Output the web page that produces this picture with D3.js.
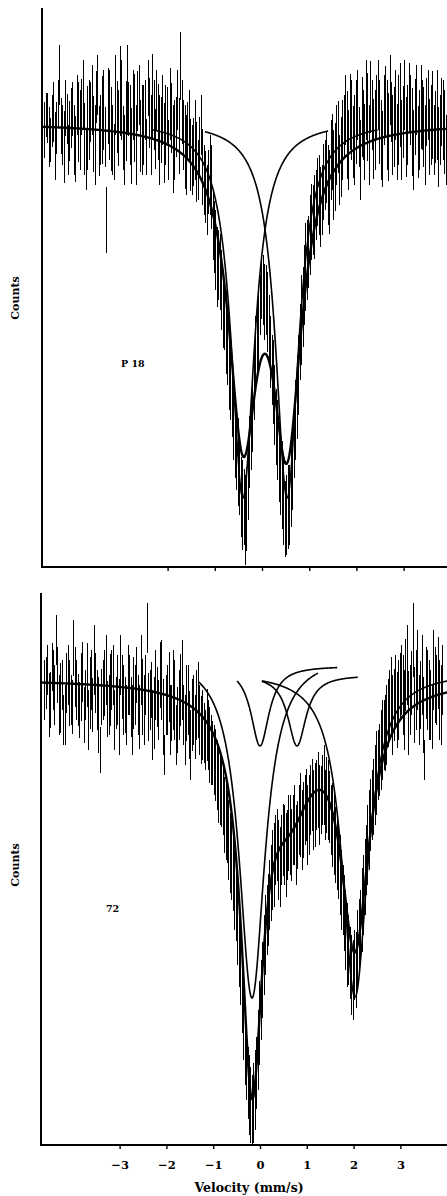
<!DOCTYPE html>
<html>
<head>
<meta charset="utf-8">
<script src="https://cdn.jsdelivr.net/npm/d3@7"></script>
<style>
  html, body { margin: 0; padding: 0; background: #fff; }
  svg { display: block; }
</style>
</head>
<body>
<svg id="chart" width="447" height="1196"></svg>
<script>
// 57Fe Mössbauer spectra of two samples (P 18 and 72) with fitted Lorentzian lines.

// ---- velocity axis ----
const velocityTicks = [-3, -2, -1, 0, 1, 2, 3];
const velocityTickLabels = ["\u22123", "\u22122", "\u22121", "0", "1", "2", "3"];
const p18TickValues = [-2, -1, 0, 1, 2, 3];
const channelStart = -4.60;    // mm/s, first channel
const channelStep = 0.03125;   // mm/s per channel

// ---- sample P 18: measured counts (arb. units) and error half-lengths ----
const p18Counts = [
  437,452, 449,430, 427,446, 455,421, 439,463,
  492,441, 432,420, 459,448, 417,436, 449,458,
  427,418, 462,445, 437,460, 472,428, 407,439,
  447,455, 467,433, 422,470, 482,426, 437,447,
  457,430, 347,461, 452,438, 427,415, 472,450,
  439,476, 467,429, 417,446, 477,458, 442,421,
  462,449, 422,466, 472,431, 437,442, 457,420,
  479,454, 432,471, 452,428, 467,445, 427,437,
  457,424, 442,452, 417,463, 449,418, 427,440,
  467,431, 501,455, 432,420, 412,437, 442,412,
  407,415, 427,405, 397,420, 442,400, 387,380,
  367,385, 392,380, 342,330, 317,300, 302,295,
  277,255, 247,235, 217,195, 182,170, 147,125,
  117,105, 87,70, 62,60, 47,58, 87,115,
  137,155, 187,215, 227,240, 262,280, 277,265,
  267,255, 237,215, 197,185, 162,140, 127,105,
  92,82, 67,48, 52,60, 62,80, 97,125,
  147,170, 192,225, 247,260, 282,300, 307,315,
  332,345, 347,350, 362,375, 372,360, 367,385,
  392,400, 382,375, 407,415, 392,400, 422,430,
  397,410, 427,440, 457,432, 417,455, 447,425,
  427,445, 462,430, 407,450, 442,425, 467,450,
  422,470, 452,428, 437,460, 472,445, 427,418,
  457,465, 442,430, 477,455, 432,440, 462,425,
  447,462, 427,445, 472,430, 442,470, 457,435,
  417,450, 467,425, 437,460, 452,440, 422,455,
  462,430, 442,452, 427,440, 452,420, 437,455,
  447,435, 417
];
const p18Errors = [
  28,22, 25,30, 22,26, 30,34, 26,24,
  30,28, 30,36, 28,25, 25,30, 30,27,
  35,33, 30,40, 40,28, 35,36, 30,42,
  40,30, 35,38, 40,26, 30,35, 35,44,
  40,30, 33,38, 45,42, 35,28, 40,36,
  38,45, 40,32, 35,40, 45,27, 40,38,
  35,44, 40,30, 30,36, 45,40, 30,28,
  28,35, 40,42, 35,30, 30,38, 45,33,
  35,40, 40,28, 30,36, 35,44, 40,30,
  30,38, 34,32, 35,42, 40,28, 35,36,
  35,34, 40,40, 30,30, 30,38, 35,36,
  35,32, 40,42, 35,36, 40,40, 35,38,
  40,36, 30,42, 35,38, 35,40, 40,36,
  40,44, 35,40, 45,38, 45,42, 40,36,
  40,40, 40,36, 35,42, 30,32, 35,38,
  35,40, 35,36, 35,42, 40,38, 40,40,
  40,44, 45,38, 40,42, 40,40, 40,36,
  40,42, 40,38, 45,40, 40,44, 40,36,
  40,38, 35,42, 35,34, 40,40, 35,38,
  35,36, 40,42, 40,38, 45,44, 40,36,
  35,40, 40,32, 35,44, 40,38, 40,36,
  45,42, 35,30, 40,40, 35,38, 40,44,
  40,36, 35,40, 40,32, 35,42, 40,38,
  35,36, 45,44, 35,30, 40,40, 35,38,
  45,42, 40,36, 35,40, 40,34, 35,44,
  40,38, 35,36, 40,42, 35,40, 40,34,
  35,38, 40,44, 35,36, 45,40, 35,34,
  40,42, 35
];

// ---- sample 72: measured counts (arb. units) and error half-lengths ----
const s72Counts = [
  455,462, 475,440, 445,478, 465,450, 505,470,
  440,447, 460,425, 430,462, 470,452, 445,438,
  497,468, 455,445, 435,458, 473,430, 450,470,
  425,452, 465,440, 485,462, 445,430, 395,448,
  455,462, 475,436, 440,455, 465,470, 425,442,
  455,428, 480,458, 445,440, 430,465, 460,438,
  425,452, 450,470, 440,428, 475,448, 435,460,
  517,438, 445,455, 420,432, 460,448, 435,470,
  465,428, 390,440, 445,458, 425,432, 455,445,
  410,425, 440,455, 465,430, 415,442, 445,420,
  400,430, 435,418, 440,445, 425,415, 420,412,
  405,420, 410,400, 395,392, 385,380, 370,360,
  355,352, 345,330, 325,318, 305,292, 285,272,
  255,240, 220,200, 180,150, 125,100, 80,62,
  50,40, 35,42, 55,72, 95,122, 145,165,
  190,210, 225,235, 250,262, 275,280, 295,300,
  285,278, 295,305, 300,290, 300,312, 310,300,
  315,320, 300,310, 325,330, 315,325, 335,340,
  320,330, 345,350, 335,340, 350,355, 340,345,
  355,360, 340,350, 345,338, 325,320, 310,300,
  290,282, 270,255, 245,232, 215,200, 195,182,
  170,165, 180,175, 195,210, 220,235, 250,268,
  285,300, 315,330, 340,348, 360,372, 380,385,
  395,405, 410,412, 420,432, 440,448, 430,440,
  455,435, 445,458, 465,450, 435,470, 480,432,
  445,462, 505,440, 455,475, 435,450, 470,430,
  385,462, 455,445, 440,428, 475,460, 455,472,
  445,440, 465
];
const s72Errors = [
  30,26, 25,32, 28,24, 30,30, 25,28,
  30,35, 25,25, 30,30, 30,33, 25,27,
  28,30, 30,26, 28,34, 30,28, 25,32,
  30,36, 30,27, 35,30, 30,38, 23,28,
  30,33, 35,28, 30,36, 30,30, 30,26,
  35,38, 30,32, 35,28, 30,35, 30,30,
  35,36, 30,28, 30,32, 35,38, 35,30,
  25,34, 30,28, 35,36, 35,30, 30,33,
  40,38, 20,30, 35,35, 35,28, 40,40,
  30,33, 35,36, 40,30, 35,38, 35,34,
  35,36, 35,32, 35,38, 35,34, 35,30,
  30,36, 35,38, 35,32, 35,36, 35,38,
  35,34, 35,38, 40,36, 40,40, 40,38,
  40,36, 40,42, 40,38, 40,40, 35,36,
  40,38, 35,40, 40,36, 40,42, 40,38,
  40,40, 35,36, 35,38, 40,42, 35,36,
  40,40, 35,36, 40,42, 35,38, 40,36,
  35,40, 40,34, 35,42, 40,38, 35,36,
  40,40, 35,36, 40,42, 35,38, 40,34,
  35,40, 35,38, 40,36, 35,42, 40,38,
  35,36, 40,40, 35,38, 40,42, 35,36,
  40,40, 35,38, 40,36, 35,42, 40,38,
  35,40, 40,36, 35,38, 40,42, 35,36,
  40,40, 35,38, 40,34, 35,40, 40,36,
  35,38, 40,34, 35,40, 40,36, 40,42,
  35,32, 37,38, 40,40, 35,34, 40,38,
  20,36, 40,40, 35,32, 40,38, 35,36,
  40,40, 35
];

// ---- fitted lines, P 18 (quadrupole doublet) ----
const p18FitBaseline = 444;
const p18FitCentres = [-0.404, 0.532];
const p18FitDepths = [292, 300];
const p18FitHalfWidths = [0.374, 0.374];
const p18LineBaselines = [446, 446];
const p18LineCentres = [-0.404, 0.532];
const p18LineDepths = [377, 377];
const p18LineHalfWidths = [0.298, 0.298];
const p18LineFrom = [-2.32, -1.21];
const p18LineTo = [1.40, 2.45];

// ---- fitted lines, 72 (Fe2+ doublet + Fe3+ doublet) ----
const s72FitBaseline = 466;
const s72FitCentres = [-0.171, 0.641, 2.03];
const s72FitDepths = [375, 100, 250];
const s72FitHalfWidths = [0.278, 0.641, 0.363];
const s72LineBaselines = [490, 479, 470, 473];
const s72LineCentres = [-0.171, 0.0, 0.79, 2.03];
const s72LineDepths = [343, 80, 71, 325];
const s72LineHalfWidths = [0.333, 0.235, 0.235, 0.333];
const s72LineFrom = [-1.32, -0.49, 0.04, 0.04];
const s72LineTo = [1.24, 1.65, 2.09, 4.2];

// ---- layout ----
const W = 447;
const panels = [
  {
    id: "p18", label: "P 18", labelX: 121, labelY: 367,
    xZero: 262, xUnit: 47.2, left: 42, top: 8, bottom: 567,
    countMax: 559,
    counts: p18Counts, errors: p18Errors,
    fit: { base: p18FitBaseline, c: p18FitCentres, d: p18FitDepths, w: p18FitHalfWidths },
    lines: { base: p18LineBaselines, c: p18LineCentres, d: p18LineDepths, w: p18LineHalfWidths, from: p18LineFrom, to: p18LineTo },
    ticks: p18TickValues, showLabels: false, countsY: 298
  },
  {
    id: "s72", label: "72", labelX: 106, labelY: 912,
    xZero: 260, xUnit: 46.8, left: 41, top: 593, bottom: 1145,
    countMax: 552,
    counts: s72Counts, errors: s72Errors,
    fit: { base: s72FitBaseline, c: s72FitCentres, d: s72FitDepths, w: s72FitHalfWidths },
    lines: { base: s72LineBaselines, c: s72LineCentres, d: s72LineDepths, w: s72LineHalfWidths, from: s72LineFrom, to: s72LineTo },
    ticks: velocityTicks, showLabels: true, countsY: 865
  }
];

const svg = d3.select("#chart");
const serif = "'DejaVu Serif', 'Liberation Serif', serif";

const lorentz = (v, c, d, w) => d / (1 + ((v - c) / w) ** 2);

panels.forEach(p => {
  const x = d3.scaleLinear().domain([-3, 3]).range([p.xZero - 3 * p.xUnit, p.xZero + 3 * p.xUnit]);
  const y = d3.scaleLinear().domain([0, p.countMax]).range([p.bottom, p.top]);

  const clipId = "clip-" + p.id;
  svg.append("clipPath").attr("id", clipId)
    .append("rect").attr("x", p.left).attr("y", p.top)
    .attr("width", W - p.left).attr("height", p.bottom - p.top);

  const g = svg.append("g").attr("clip-path", `url(#${clipId})`);

  // measured channels drawn as vertical error bars
  g.append("g").attr("shape-rendering", "crispEdges").selectAll("line")
    .data(p.counts.map((c, i) => ({ v: channelStart + i * channelStep, c, e: p.errors[i] })))
    .join("line")
    .attr("x1", d => x(d.v)).attr("x2", d => x(d.v))
    .attr("y1", d => y(d.c - d.e)).attr("y2", d => y(d.c + d.e))
    .attr("stroke", "#000").attr("stroke-width", 1);

  const line = d3.line().x(d => x(d[0])).y(d => y(d[1]));

  // individual Lorentzian lines, each over its own velocity window
  p.lines.c.forEach((c, k) => {
    const pts = d3.range(p.lines.from[k], p.lines.to[k] + 1e-9, 0.01)
      .map(v => [v, p.lines.base[k] - lorentz(v, c, p.lines.d[k], p.lines.w[k])]);
    g.append("path").attr("d", line(pts))
      .attr("fill", "none").attr("stroke", "#000").attr("stroke-width", 1.6);
  });

  // total fit
  const vMin = x.invert(p.left), vMax = x.invert(W);
  const fitPts = d3.range(vMin, vMax + 0.01, 0.01).map(v => [v,
    p.fit.base - d3.sum(p.fit.c, (c, k) => lorentz(v, c, p.fit.d[k], p.fit.w[k]))]);
  g.append("path").attr("d", line(fitPts))
    .attr("fill", "none").attr("stroke", "#000").attr("stroke-width", 2.4);

  // axes frame (left and bottom)
  svg.append("line").attr("x1", p.left).attr("x2", p.left)
    .attr("y1", p.top).attr("y2", p.bottom + 1)
    .attr("stroke", "#000").attr("stroke-width", 2);
  svg.append("line").attr("x1", p.left - 1).attr("x2", W)
    .attr("y1", p.bottom).attr("y2", p.bottom)
    .attr("stroke", "#000").attr("stroke-width", 2.2);

  const axis = d3.axisBottom(x).tickValues(p.ticks).tickSize(4).tickSizeOuter(0)
    .tickFormat(p.showLabels ? (d => velocityTickLabels[velocityTicks.indexOf(d)]) : () => "");
  const ax = svg.append("g").attr("transform", `translate(0,${p.bottom})`).call(axis);
  ax.select(".domain").remove();
  ax.selectAll(".tick line").attr("stroke", "#000").attr("stroke-width", 1.4);
  ax.selectAll(".tick text")
    .attr("font-family", serif).attr("font-weight", "bold").attr("font-size", 11.5)
    .attr("fill", "#000").attr("dy", "1.5em");

  // y-axis title
  svg.append("text")
    .attr("transform", `translate(19,${p.countsY}) rotate(-90)`)
    .attr("text-anchor", "middle")
    .attr("font-family", serif).attr("font-weight", "bold").attr("font-size", 11)
    .text("Counts");

  // sample label
  svg.append("text").attr("x", p.labelX).attr("y", p.labelY)
    .attr("font-family", serif).attr("font-weight", "bold").attr("font-size", 9.5)
    .text(p.label);

  if (p.showLabels) {
    svg.append("text").attr("x", 249).attr("y", 1192)
      .attr("text-anchor", "middle")
      .attr("font-family", serif).attr("font-weight", "bold").attr("font-size", 12.5)
      .text("Velocity (mm/s)");
  }
});
</script>
</body>
</html>
